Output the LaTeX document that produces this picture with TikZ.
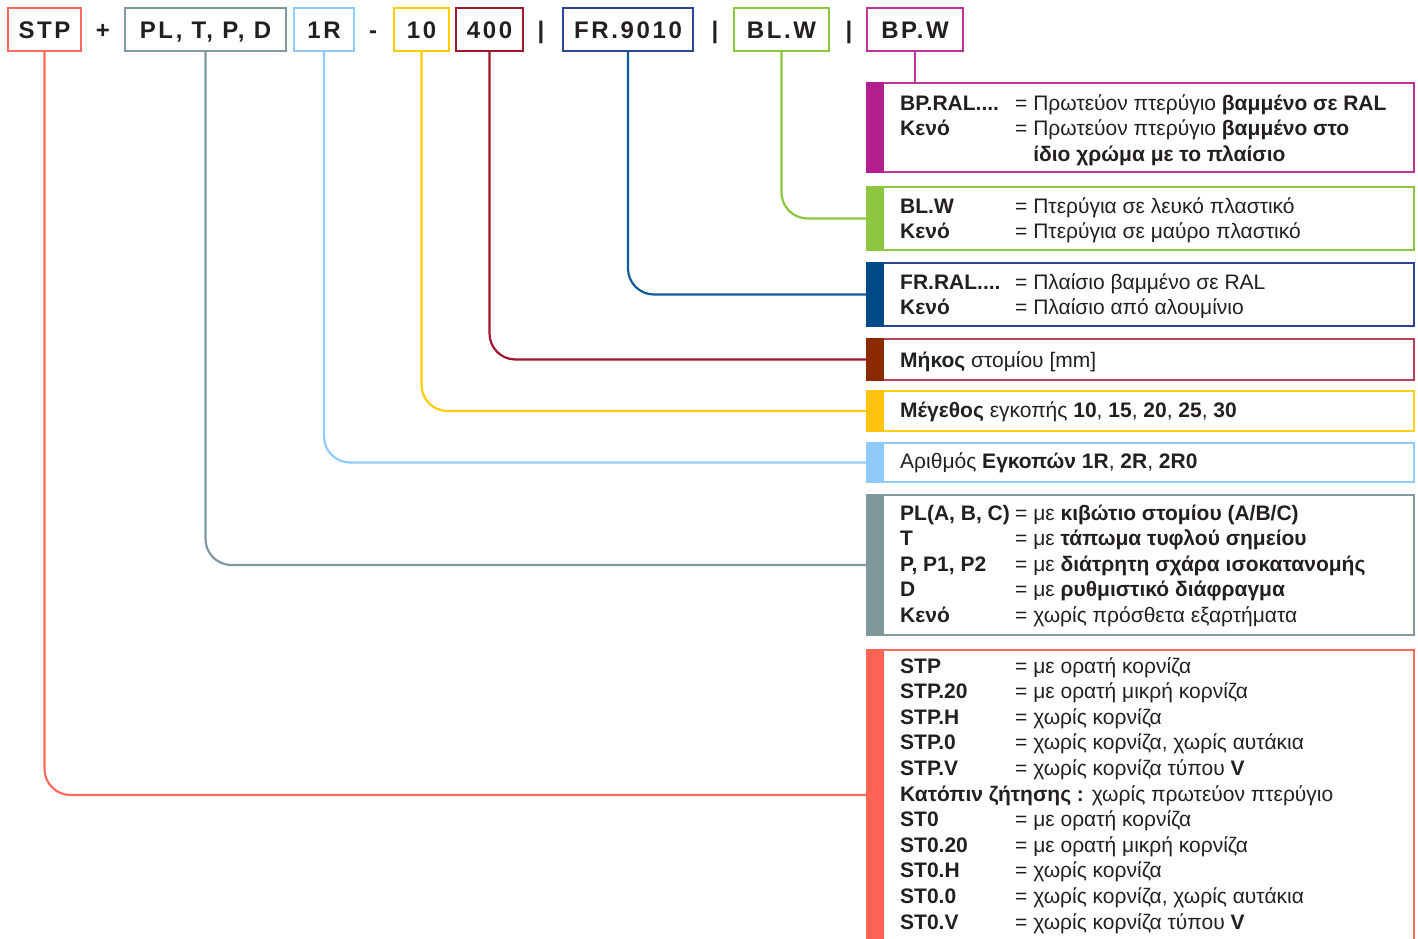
\documentclass[tikz,border=0pt]{standalone}
\usepackage{fontspec}
\setmainfont{Liberation Sans}
\newfontfamily\codefont[LetterSpace=11]{Liberation Sans}
\usepackage{xcolor}
\usepackage{tikz}
\usetikzlibrary{positioning}
\definecolor{ink}{HTML}{231F20}
\definecolor{stpline}{HTML}{FF6A5E}
\definecolor{stpbar}{HTML}{FF6457}
\definecolor{plline}{HTML}{7F999E}
\definecolor{plbar}{HTML}{7E989C}
\definecolor{cntline}{HTML}{8FCBFF}
\definecolor{cntbar}{HTML}{90CAF9}
\definecolor{sizeline}{HTML}{FFCC00}
\definecolor{sizebar}{HTML}{FFC20E}
\definecolor{lenline}{HTML}{A0162A}
\definecolor{lenbar}{HTML}{8B2A00}
\definecolor{frline}{HTML}{2A4594}
\definecolor{frconn}{HTML}{0F5A9A}
\definecolor{frbar}{HTML}{004A87}
\definecolor{blline}{HTML}{8CC63F}
\definecolor{blbar}{HTML}{8DC63F}
\definecolor{bpline}{HTML}{C0349A}
\definecolor{bpbar}{HTML}{B41E8E}
\tikzset{
  codebox/.style={draw, line width=2pt, minimum height=43pt, inner sep=0pt, text height=17pt, text depth=0pt,
    font=\codefont\bfseries\fontsize{24}{28}\selectfont, text=ink},
  sepmark/.style={inner sep=0pt, text height=17pt, text depth=0pt, font=\codefont\bfseries\fontsize{24}{28}\selectfont, text=ink},
  infobox/.style={draw, line width=1.3pt, minimum width=547pt, inner sep=0pt},
  infotext/.style={anchor=base west, inner sep=0pt, font=\fontsize{21}{25.6}\selectfont, text=ink},
  conn/.style={line width=2.2pt, rounded corners=26pt}
}
\newcommand{\entry}[2]{\makebox[115pt][l]{\bfseries #1}= #2}
\newcommand{\goon}[1]{\makebox[115pt]{}\hphantom{=}\ #1}

\begin{document}
\begin{tikzpicture}[x=1pt,y=-1pt]
  \useasboundingbox (0,0) rectangle (1418,938);

  % code line
  \node[codebox, draw=stpline, minimum width=73pt] (stp) at (44.5,29.5) {STP};
  \node[sepmark] (plus) at (103,29.5) {+};
  \node[codebox, draw=plline, minimum width=161pt] (pl) at (205.5,29.5) {PL, T, P, D};
  \node[codebox, draw=cntline, minimum width=60pt] (cnt) at (324,29.5) {1R};
  \node[sepmark] (minus) at (373,29.5) {-};
  \node[codebox, draw=sizeline, minimum width=55pt] (size) at (421.5,29.5) {10};
  \node[codebox, draw=lenline, minimum width=67pt] (len) at (489.5,29.5) {400};
  \node[sepmark] (bar1) at (541,29.5) {|};
  \node[codebox, draw=frline, minimum width=130pt] (fr) at (628,29.5) {FR.9010};
  \node[sepmark] (bar2) at (715,29.5) {|};
  \node[codebox, draw=blline, minimum width=95pt] (bl) at (781.5,29.5) {BL.W};
  \node[sepmark] (bar3) at (849,29.5) {|};
  \node[codebox, draw=bpline, minimum width=96pt] (bp) at (915,29.5) {BP.W};

  % legend boxes
  \node[infobox, draw=bpline, minimum height=89pt] (bpinfo) at (1140.5,127.5) {};
  \node[infobox, draw=blline, minimum height=63pt] (blinfo) at (1140.5,218.5) {};
  \node[infobox, draw=frline, minimum height=63pt] (frinfo) at (1140.5,294.5) {};
  \node[infobox, draw=lenline!80, minimum height=41pt] (leninfo) at (1140.5,359.5) {};
  \node[infobox, draw=sizeline!90, minimum height=40pt] (sizeinfo) at (1140.5,411) {};
  \node[infobox, draw=cntline, minimum height=39pt] (cntinfo) at (1140.5,462.5) {};
  \node[infobox, draw=plline, minimum height=140pt] (plinfo) at (1140.5,565) {};
  \node[infobox, draw=stpline, minimum height=290pt] (stpinfo) at (1140.5,795) {};

  \fill[bpbar] (bpinfo.north west) rectangle ([xshift=18pt]bpinfo.south west);
  \fill[blbar] (blinfo.north west) rectangle ([xshift=18pt]blinfo.south west);
  \fill[frbar] (frinfo.north west) rectangle ([xshift=18pt]frinfo.south west);
  \fill[lenbar] (leninfo.north west) rectangle ([xshift=18pt]leninfo.south west);
  \fill[sizebar] (sizeinfo.north west) rectangle ([xshift=18pt]sizeinfo.south west);
  \fill[cntbar] (cntinfo.north west) rectangle ([xshift=18pt]cntinfo.south west);
  \fill[plbar] (plinfo.north west) rectangle ([xshift=18pt]plinfo.south west);
  \fill[stpbar] (stpinfo.north west) rectangle ([xshift=18pt]stpinfo.south west);

  % legend texts
  \node[infotext] (bptext) at (900,110) {\begin{tabular}[t]{@{}l@{}}
    \entry{BP.RAL....}{Πρωτεύον πτερύγιο \textbf{βαμμένο σε RAL}}\\
    \entry{Κενό}{Πρωτεύον πτερύγιο \textbf{βαμμένο στο}}\\
    \goon{\textbf{ίδιο χρώμα με το πλαίσιο}}
  \end{tabular}};
  \node[infotext] (bltext) at (900,213) {\begin{tabular}[t]{@{}l@{}}
    \entry{BL.W}{Πτερύγια σε λευκό πλαστικό}\\
    \entry{Κενό}{Πτερύγια σε μαύρο πλαστικό}
  \end{tabular}};
  \node[infotext] (frtext) at (900,289) {\begin{tabular}[t]{@{}l@{}}
    \entry{FR.RAL....}{Πλαίσιο βαμμένο σε RAL}\\
    \entry{Κενό}{Πλαίσιο από αλουμίνιο}
  \end{tabular}};
  \node[infotext] (lentext) at (900,367) {\textbf{Μήκος} στομίου [mm]};
  \node[infotext] (sizetext) at (900,417) {\textbf{Μέγεθος} εγκοπής \textbf{10}, \textbf{15}, \textbf{20}, \textbf{25}, \textbf{30}};
  \node[infotext] (cnttext) at (900,468) {Αριθμός \textbf{Εγκοπών 1R}, \textbf{2R}, \textbf{2R0}};
  \node[infotext] (pltext) at (900,520) {\begin{tabular}[t]{@{}l@{}}
    \entry{PL(A, B, C)}{με \textbf{κιβώτιο στομίου (A/B/C)}}\\
    \entry{T}{με \textbf{τάπωμα τυφλού σημείου}}\\
    \entry{P, P1, P2}{με \textbf{διάτρητη σχάρα ισοκατανομής}}\\
    \entry{D}{με \textbf{ρυθμιστικό διάφραγμα}}\\
    \entry{Κενό}{χωρίς πρόσθετα εξαρτήματα}
  \end{tabular}};
  \node[infotext] (stptext) at (900,673) {\begin{tabular}[t]{@{}l@{}}
    \entry{STP}{με ορατή κορνίζα}\\
    \entry{STP.20}{με ορατή μικρή κορνίζα}\\
    \entry{STP.H}{χωρίς κορνίζα}\\
    \entry{STP.0}{χωρίς κορνίζα, χωρίς αυτάκια}\\
    \entry{STP.V}{χωρίς κορνίζα τύπου \textbf{V}}\\
    \textbf{Κατόπιν ζήτησης :} χωρίς πρωτεύον πτερύγιο\\
    \entry{ST0}{με ορατή κορνίζα}\\
    \entry{ST0.20}{με ορατή μικρή κορνίζα}\\
    \entry{ST0.H}{χωρίς κορνίζα}\\
    \entry{ST0.0}{χωρίς κορνίζα, χωρίς αυτάκια}\\
    \entry{ST0.V}{χωρίς κορνίζα τύπου \textbf{V}}
  \end{tabular}};

  % connectors
  \draw[conn, draw=bpline] (bp.south) -- (bp.south |- bpinfo.north);
  \draw[conn, draw=blline] (bl.south) |- (blinfo.west);
  \draw[conn, draw=frconn] (fr.south) |- (frinfo.west);
  \draw[conn, draw=lenline] (len.south) |- (leninfo.west);
  \draw[conn, draw=sizeline] (size.south) |- (sizeinfo.west);
  \draw[conn, draw=cntline] (cnt.south) |- (cntinfo.west);
  \draw[conn, draw=plline] (pl.south) |- (plinfo.west);
  \draw[conn, draw=stpline] (stp.south) |- (stpinfo.west);
\end{tikzpicture}
\end{document}
